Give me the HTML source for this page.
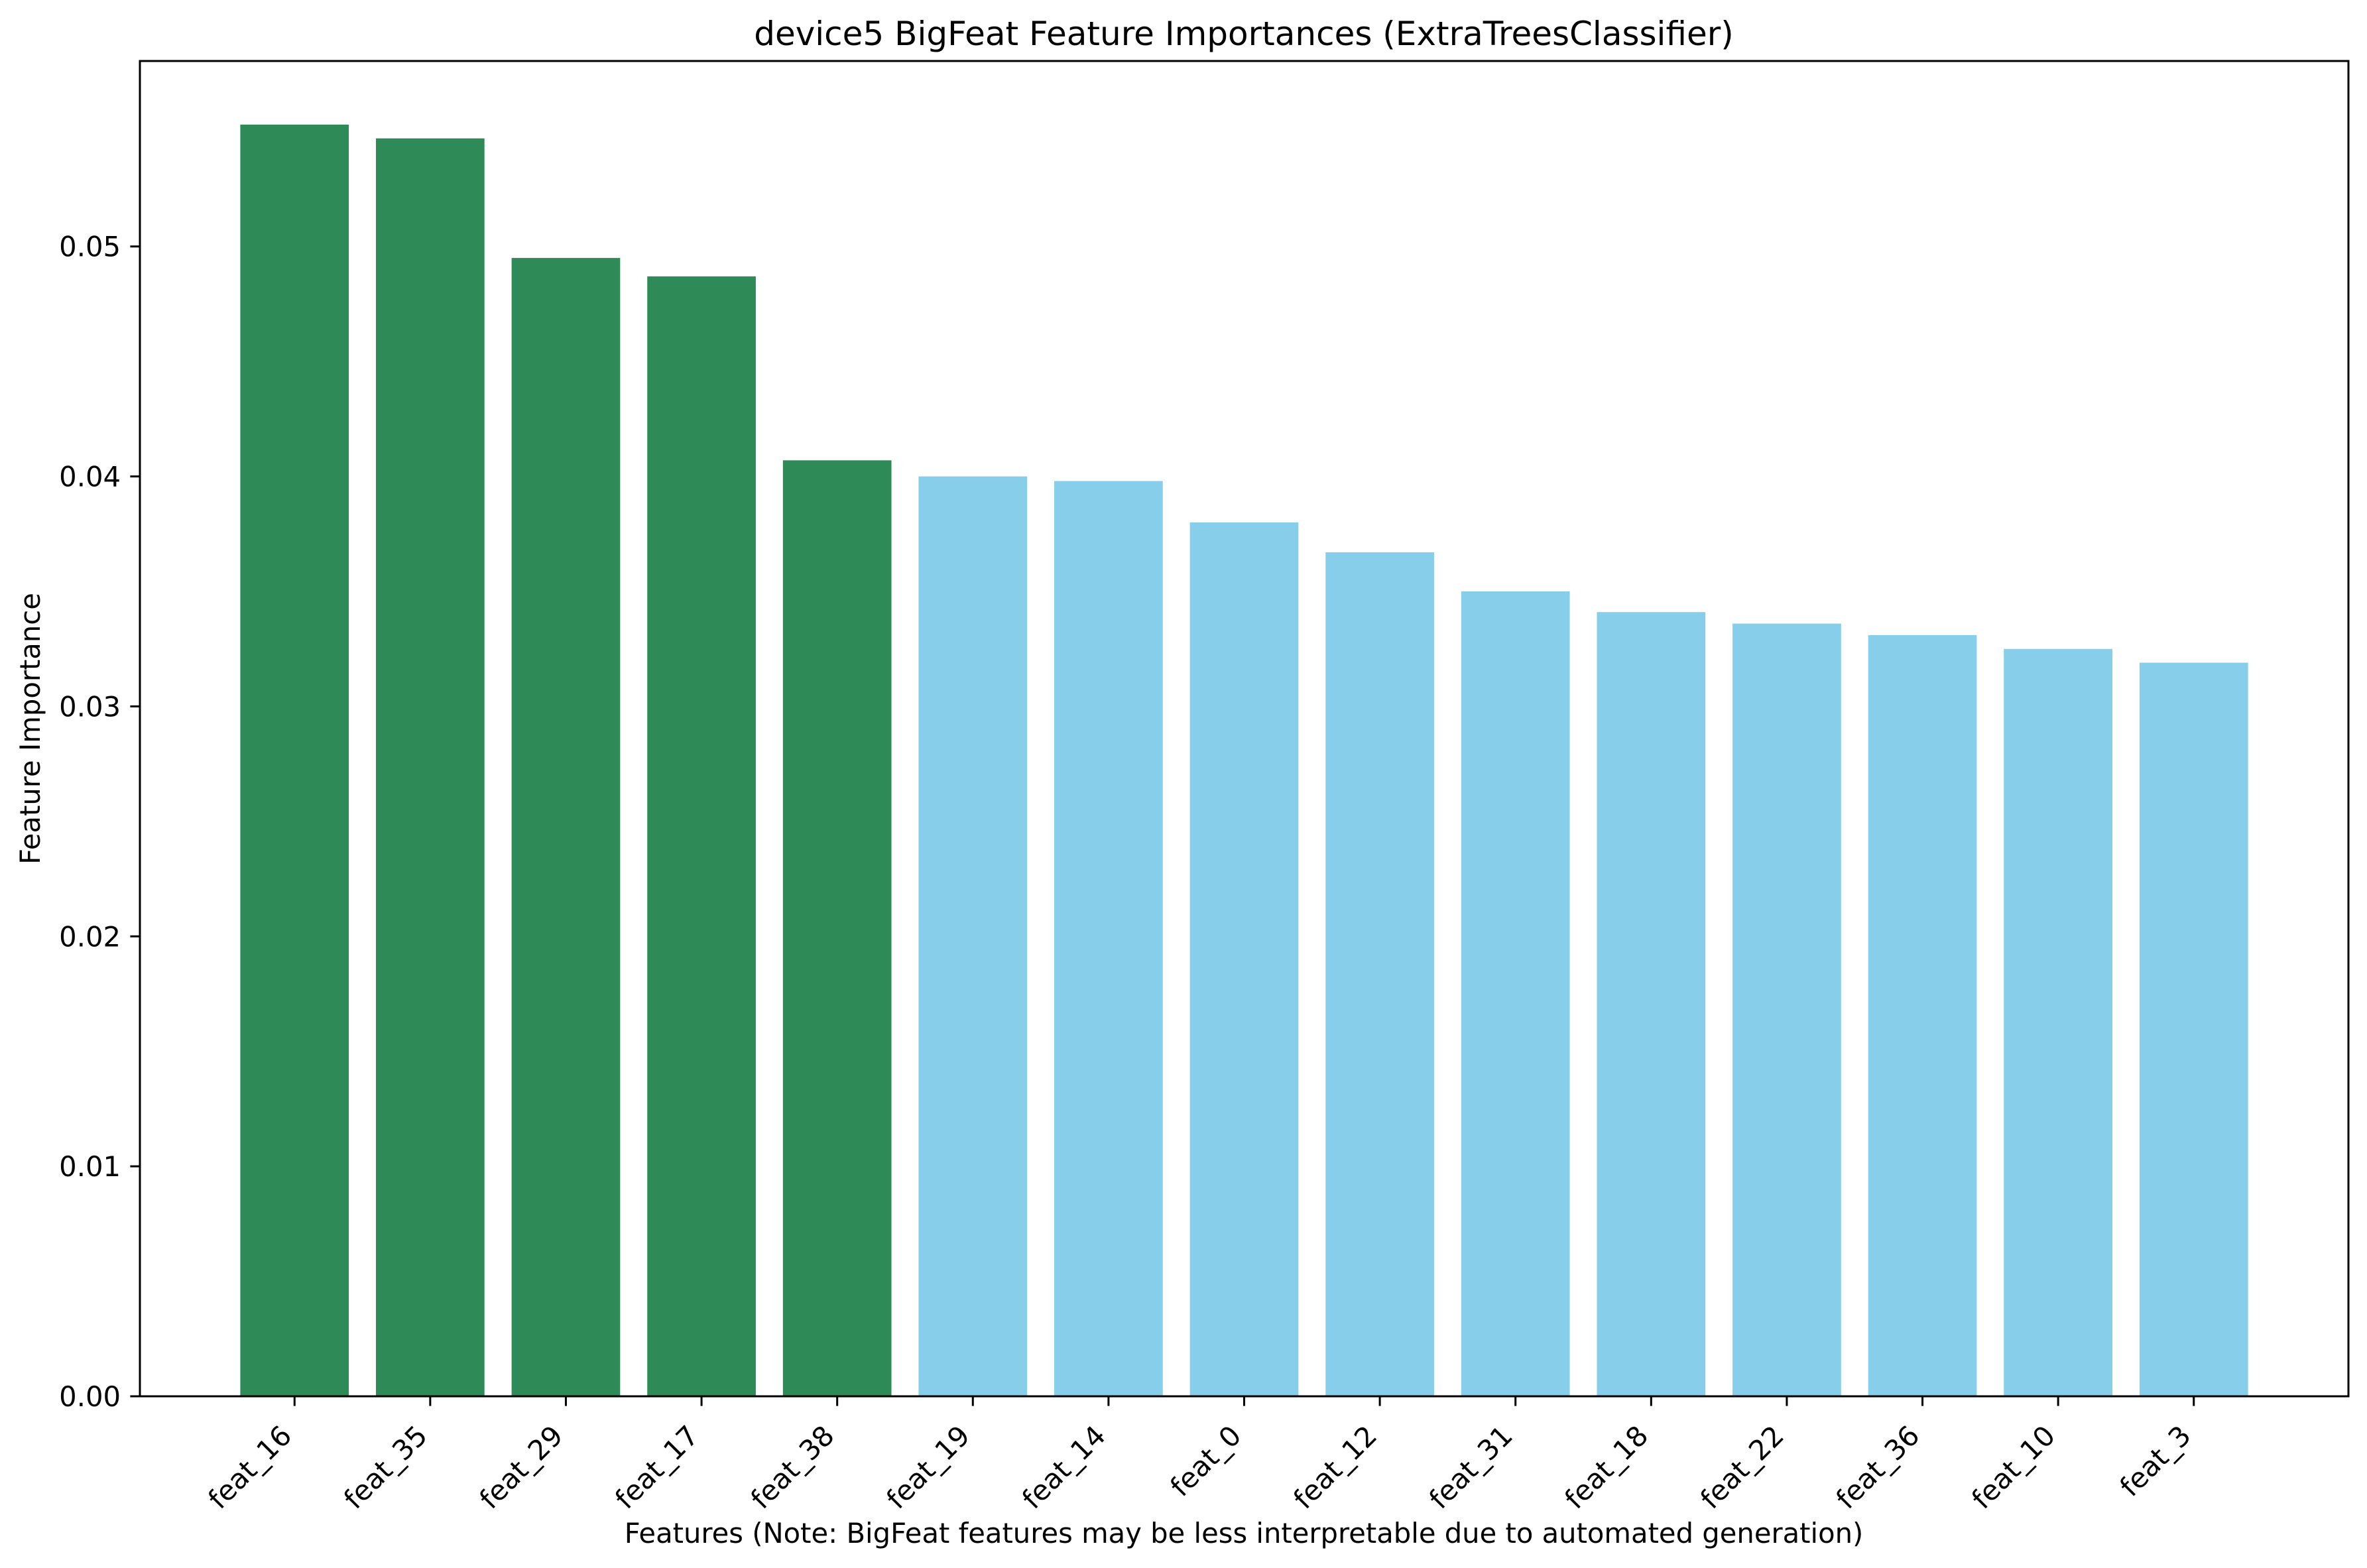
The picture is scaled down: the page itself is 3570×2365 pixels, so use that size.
<!DOCTYPE html>
<html><head><meta charset="utf-8"><style>
html,body{margin:0;padding:0;background:#fff;}
svg{display:block;font-family:"DejaVu Sans","Liberation Sans",sans-serif;}
</style></head><body>
<svg id="chart" width="3570" height="2365" viewBox="0 0 3570 2365" xmlns="http://www.w3.org/2000/svg">
<rect width="3570" height="2365" fill="#fff"/>
<text x="1876" y="68" font-size="50" text-anchor="middle">device5 BigFeat Feature Importances (ExtraTreesClassifier)</text>
<text x="1876" y="2327" font-size="41.7" text-anchor="middle">Features (Note: BigFeat features may be less interpretable due to automated generation)</text>
<text x="0" y="0" font-size="41.7" text-anchor="middle" transform="translate(60,1099) rotate(-90)">Feature Importance</text>
<g id="bars"></g>
<g id="yticks"></g>
<g id="xticks"></g>
<rect x="211" y="92" width="3331" height="2014" fill="none" stroke="#000" stroke-width="3"/>
</svg>
<script>
const categories = ["feat_16","feat_35","feat_29","feat_17","feat_38","feat_19","feat_14","feat_0","feat_12","feat_31","feat_18","feat_22","feat_36","feat_10","feat_3"];
const importances = [0.0553,0.0547,0.0495,0.0487,0.0407,0.0400,0.0398,0.0380,0.0367,0.0350,0.0341,0.0336,0.0331,0.0325,0.0319];
const isBigFeat = [true,true,true,true,true,false,false,false,false,false,false,false,false,false,false];
const yTickValues = [0,0.01,0.02,0.03,0.04,0.05];
const yTickLabels = ["0.00","0.01","0.02","0.03","0.04","0.05"];

const NS="http://www.w3.org/2000/svg";
const L=211,R=3542,T=92,B=2106;
const xMin=-1.14, xMax=categories.length-1+1.14;
const yMax=Math.max(...importances)*1.05;
function xScale(i){return L+(i-xMin)/(xMax-xMin)*(R-L);}
function yScale(v){return B-v/yMax*(B-T);}
const unit=(R-L)/(xMax-xMin);

const barsG=document.getElementById('bars');
importances.forEach((v,i)=>{
  const r=document.createElementNS(NS,'rect');
  const w=0.8*unit;
  r.setAttribute('x',xScale(i)-w/2);
  r.setAttribute('y',yScale(v));
  r.setAttribute('width',w);
  r.setAttribute('height',B-yScale(v));
  r.setAttribute('fill',isBigFeat[i]?'#2E8B57':'#87CEEB');
  
  
  barsG.appendChild(r);
});

const yG=document.getElementById('yticks');
yTickValues.forEach((v,i)=>{
  const y=yScale(v);
  const ln=document.createElementNS(NS,'line');
  ln.setAttribute('x1',L-14.6);ln.setAttribute('x2',L);
  ln.setAttribute('y1',y);ln.setAttribute('y2',y);
  ln.setAttribute('stroke','#000');ln.setAttribute('stroke-width','3');
  
  
  yG.appendChild(ln);
  const t=document.createElementNS(NS,'text');
  t.setAttribute('x',L-29);t.setAttribute('y',y+15);
  t.setAttribute('font-size','41.7');t.setAttribute('text-anchor','end');
  t.textContent=yTickLabels[i];
  
  
  yG.appendChild(t);
});

const xG=document.getElementById('xticks');
categories.forEach((c,i)=>{
  const x=xScale(i);
  const ln=document.createElementNS(NS,'line');
  ln.setAttribute('x1',x);ln.setAttribute('x2',x);
  ln.setAttribute('y1',B);ln.setAttribute('y2',B+14.6);
  ln.setAttribute('stroke','#000');ln.setAttribute('stroke-width','3');
  
  
  xG.appendChild(ln);
  const t=document.createElementNS(NS,'text');
  t.setAttribute('font-size','41.7');t.setAttribute('text-anchor','end');
  t.setAttribute('transform','translate('+(x-2)+','+(B+62)+') rotate(-45)');
  t.textContent=c;
  
  
  xG.appendChild(t);
});
</script>
</body></html>
